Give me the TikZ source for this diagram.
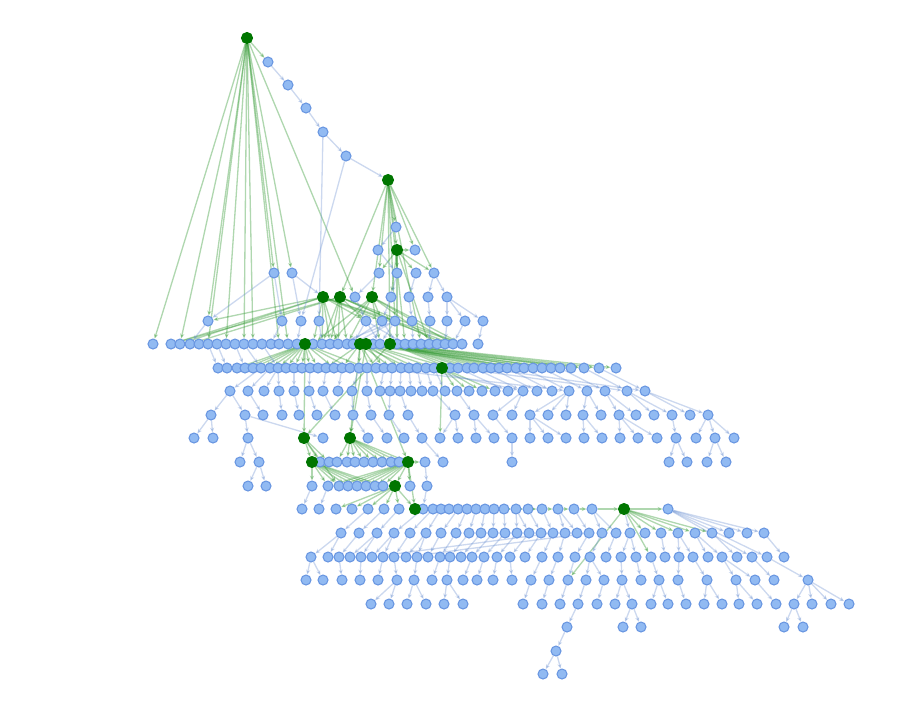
\documentclass[tikz,border=0pt]{standalone}
\usepackage{tikz}
\usetikzlibrary{arrows.meta}
\definecolor{nodefill}{RGB}{145,186,242}
\definecolor{nodeline}{RGB}{105,150,225}
\definecolor{hubgreen}{RGB}{0,118,0}
\definecolor{edgeblue}{RGB}{95,135,205}
\definecolor{edgegreen}{RGB}{45,150,45}
\pgfdeclarelayer{edges}
\pgfsetlayers{edges,main}

\begin{document}
\begin{tikzpicture}[x=0.02cm, y=-0.02cm,
    bn/.style={circle, fill=nodefill, draw=nodeline, line width=0.6pt, inner sep=0pt, minimum size=0.2cm},
    gn/.style={circle, fill=hubgreen, draw=hubgreen, line width=0.6pt, inner sep=0pt, minimum size=0.22cm},
    be/.style={draw=edgeblue, opacity=0.32, line width=0.75pt, -{Stealth[length=2.8pt,width=2.4pt]}},
    ge/.style={draw=edgegreen, opacity=0.38, line width=0.75pt, -{Stealth[length=2.8pt,width=2.4pt]}}]
    \useasboundingbox (0,0) rectangle (911,714);
    % Top chain
    \node[gn] (a1) at (247,38) {};
    \node[bn] (b1) at (268,62) {};
    \node[bn] (c1) at (288,85) {};
    \node[bn] (d1) at (306,108) {};
    \node[bn] (e1) at (323,132) {};
    \node[bn] (f1) at (346,156) {};
    \node[gn] (g1) at (388,180) {};
    \node[bn] (h1) at (396,227) {};
    % Rows of nodes
    \foreach \x [count=\i] in {378,397,415} \node[bn] (i\i) at (\x,250) {};
    \foreach \x [count=\i] in {274,292,379,397,416,434} \node[bn] (j\i) at (\x,273) {};
    \foreach \x [count=\i] in {323,340,355,372,391,409,428,447} \node[bn] (k\i) at (\x,297) {};
    \foreach \x [count=\i] in {208,282,301,319,366,382,395,412,430,447,465,483} \node[bn] (l\i) at (\x,321) {};
    \foreach \x [count=\i] in {153,171,180,190,199,208,217,226,235,244,253,262,271,279,288,297,305,313,322,330,338,347,353,360,366,373,380,390,397,405,413,421,429,437,445,453,462,478} \node[bn] (m\i) at (\x,344) {};
    \foreach \x [count=\i] in {218,227,237,245,253,261,270,278,286,294,302,310,318,326,334,342,350,359,367,376,384,392,401,409,417,426,434,442,450,458,467,474,483,491,499,507,516,524,533,542,551,560,571,584,599,616} \node[bn] (n\i) at (\x,368) {};
    \foreach \x [count=\i] in {230,248,264,279,294,309,323,338,352,367,380,390,400,411,422,433,445,457,469,482,495,508,523,537,552,569,587,605,627,645} \node[bn] (o\i) at (\x,391) {};
    \foreach \x [count=\i] in {211,245,263,282,299,317,335,353,371,389,408,455,474,493,512,530,548,566,583,601,619,636,654,672,690,708} \node[bn] (p\i) at (\x,415) {};
    \foreach \x [count=\i] in {194,213,248,304,323,350,368,387,404,422,440,458,476,494,512,530,548,566,584,602,620,638,657,676,696,715,734} \node[bn] (q\i) at (\x,438) {};
    \foreach \x [count=\i] in {240,259,312,320,329,337,347,355,364,373,382,391,399,408,425,443,512,669,687,707,726} \node[bn] (r\i) at (\x,462) {};
    \foreach \x [count=\i] in {248,266,312,328,339,348,357,366,375,383,395,410,427} \node[bn] (s\i) at (\x,486) {};
    \foreach \x [count=\i] in {302,319,336,352,368,384,399,415,423,433,441,449,458,467,476,485,494,504,516,528,542,558,574,592,624,668} \node[bn] (t\i) at (\x,509) {};
    \foreach \x [count=\i] in {341,359,377,394,410,426,441,456,469,481,493,505,517,529,541,553,565,577,589,602,616,630,645,661,678,695,712,729,747,764} \node[bn] (u\i) at (\x,533) {};
    \foreach \x [count=\i] in {311,328,339,350,361,372,383,394,406,417,428,440,450,461,472,484,497,510,525,542,558,575,590,606,621,636,651,665,679,693,708,722,737,752,767,784} \node[bn] (v\i) at (\x,557) {};
    \foreach \x [count=\i] in {306,323,342,360,378,397,414,432,447,463,477,493,512,531,549,568,586,604,622,641,659,678,707,736,755,774,808} \node[bn] (w\i) at (\x,580) {};
    \foreach \x [count=\i] in {371,389,407,426,444,463,523,542,560,578,597,615,632,651,668,686,704,722,739,757,776,794,812,831,849} \node[bn] (x\i) at (\x,604) {};
    \foreach \x [count=\i] in {567,623,641,784,803} \node[bn] (y\i) at (\x,627) {};
    \node[bn] (z1) at (556,651) {};
    \foreach \x [count=\i] in {543,562} \node[bn] (za\i) at (\x,674) {};
    % Green hubs
    \foreach \g in {i2,k1,k2,k4,m17,m24,m25,m28,n28,q4,q6,r3,r14,s11,t8,t25}
        \node[gn] (hub-\g) at (\g) {};
    \begin{pgfonlayer}{edges}
    % Green edges
    \foreach \s/\t in {a1/b1,a1/m1,a1/m3,a1/l1,a1/m6,a1/m8,a1/m10,a1/m11,a1/m14,a1/m15,a1/j1,a1/j2,a1/k3,
        g1/h1,g1/i2,g1/i3,g1/j3,g1/j6,g1/k4,g1/k2,g1/m28,g1/m30,g1/m32,g1/l7,
        i2/i3,i2/j3,i2/j4,i2/j5,i2/j6,i2/m29,i2/m33,i2/k5,
        k1/m2,k1/m3,k1/l1,k1/m18,k1/m19,k1/m20,k1/m21,k1/l5,k1/l6,k1/m36,k1/m37,
        k2/m2,k2/m4,k2/m19,k2/m20,k2/m21,k2/m22,k2/l5,k2/m35,k2/m37,k2/l7,
        k4/m18,k4/m20,k4/m22,k4/m27,k4/m36,k4/m37,k4/l6,k4/m34,
        m17/n3,m17/n5,m17/n7,m17/n9,m17/n11,m17/n13,m17/n15,m17/n17,m17/n19,m17/q4,
        m17/n4,m17/n6,m17/n8,m17/n10,m17/n12,
        m24/n14,m24/n16,m24/n18,m24/n20,m24/n22,m24/n24,m24/q6,m24/r14,m24/n38,m24/n42,
        m25/n21,m25/n23,m25/n25,m25/n27,m25/n29,m25/q6,m25/n40,m25/n44,
        m28/n29,m28/n31,m28/n33,m28/n35,m28/n37,m28/n39,m28/n41,m28/n43,m28/n44,m28/n45,m28/n46,m28/q4,
        m28/n30,m28/n32,m28/n34,m28/n36,
        n28/o18,n28/o19,n28/o20,n28/o21,n28/q11,
        q4/r3,q4/r4,q4/r5,q4/s5,
        q6/r6,q6/r7,q6/r8,q6/r9,q6/r10,q6/r11,q6/r12,q6/r13,q6/r14,
        r3/s3,r3/s4,r3/s5,r3/s6,r3/s7,r3/s8,r3/s9,r3/s10,
        r14/s4,r14/s5,r14/s6,r14/s7,r14/s8,r14/s9,r14/s10,r14/s11,r14/s12,r14/t8,r14/r15,
        s11/t3,s11/t4,s11/t5,s11/t6,s11/t7,s11/t8,
        t8/t9,t9/t10,t10/t11,t11/t12,t12/t13,t13/t14,t14/t15,t15/t16,t16/t17,t17/t18,
        t18/t19,t19/t20,t20/t21,t21/t22,t22/t23,t23/t24,t24/t25,
        t25/t26,t25/u23,t25/u24,t25/u25,t25/u26,t25/u27,t25/v27,t25/w16}
        \draw[ge] (\s) -- (\t);
    % Blue edges
    \foreach \s/\t in {b1/c1,c1/d1,d1/e1,e1/f1,f1/g1,e1/l4,f1/l3,
        h1/i1,i1/j4,j3/k3,j4/k5,j5/k6,j6/k8,j6/k7,j1/l1,j1/l2,j2/k1,j2/l3,
        k3/l5,k5/l6,k6/l8,k7/l9,k8/l10,k8/l11,k8/l12,
        l5/m23,l5/m27,l6/m22,l6/m26,l6/m29,l7/m23,l7/m27,l8/m31,l9/m33,l10/m35,l11/m36,l12/m38,
        l2/m13,l3/m16,l4/m19,l1/m4,l5/m30,l7/m21,
        m6/n1,m7/n2,m9/n4,m10/n6,m12/n8,
        n6/o1,n7/o2,n8/o3,n8/o4,n10/o5,n12/o6,n14/o7,n16/o8,n18/o9,n19/o10,n21/o11,n22/o12,
        n23/o13,n24/o14,n25/o15,n26/o16,n27/o17,n30/o22,n32/o23,n34/o24,n36/o25,n38/o26,
        n40/o27,n42/o28,n44/o29,n45/o30,n25/o23,n30/o29,n33/o30,n20/o26,
        o1/p1,o1/p2,o2/p3,o4/p4,o5/p5,o6/p6,o7/p7,o9/p8,o10/p9,o12/p10,o13/p11,o16/p12,o18/p13,
        o23/p14,o23/p15,o26/p16,o26/p17,o26/p18,o27/p19,o27/p20,o28/p21,o28/p22,o29/p23,
        o29/p24,o30/p25,o30/p26,
        p1/q1,p1/q2,p2/q3,p2/q5,p8/q7,p9/q8,p10/q9,p11/q10,p12/q11,p12/q12,p13/q13,p13/q14,
        p14/q15,p16/q16,p16/q17,p16/q18,p19/q19,p19/q20,p21/q21,p21/q22,p21/q23,p24/q24,
        p26/q25,p26/q26,p26/q27,
        q3/r1,q3/r2,q10/r16,q15/r17,q24/r18,q24/r19,q26/r20,q26/r21,
        r2/s1,r2/s2,r15/s13,s3/t1,s4/t2,s13/t9,
        t5/u1,t6/u2,t7/u3,t9/u4,t10/u5,t11/u6,t13/u7,t14/u8,t15/u9,t16/u10,t17/u11,t18/u12,
        t19/u13,t19/u14,t20/u15,t21/u16,t22/u17,t22/u18,t23/u19,t24/u20,t24/u21,t25/u22,
        t26/u28,t26/u29,t26/u30,t26/v34,t26/v35,
        u1/v1,u1/v2,u2/v3,u3/v4,u3/v5,u4/v6,u4/v7,u5/v8,u6/v9,u6/v10,u7/v11,u8/v12,u9/v13,
        u10/v14,u11/v15,u12/v16,u13/v17,u14/v18,u15/v19,u16/v20,u17/v21,u19/v22,u20/v23,
        u21/v24,u22/v25,u22/v26,u24/v28,u25/v29,u25/v30,u26/v31,u26/v32,u27/v33,u30/v36,
        u16/v6,u19/v9,
        v1/w1,v1/w2,v3/w3,v5/w4,v7/w5,v8/w6,v10/w7,v12/w8,v13/w9,v15/w10,v16/w11,v17/w12,
        v18/w13,v20/w14,v21/w15,v22/w16,v23/w17,v23/w18,v25/w19,v26/w20,v27/w21,v29/w22,
        v30/w23,v32/w24,v32/w25,v34/w26,v35/w27,
        w6/x1,w6/x2,w7/x3,w7/x4,w9/x5,w9/x6,w14/x7,w15/x8,w16/x9,w17/x10,w18/x11,w19/x12,
        w19/x13,w21/x14,w21/x15,w22/x16,w23/x17,w23/x18,w24/x19,w24/x20,w25/x21,w27/x22,
        w27/x23,w27/x24,w27/x25,
        x10/y1,x13/y2,x13/y3,x22/y4,x22/y5,y1/z1,z1/za1,z1/za2}
        \draw[be] (\s) -- (\t);
    \end{pgfonlayer}
\end{tikzpicture}
\end{document}
